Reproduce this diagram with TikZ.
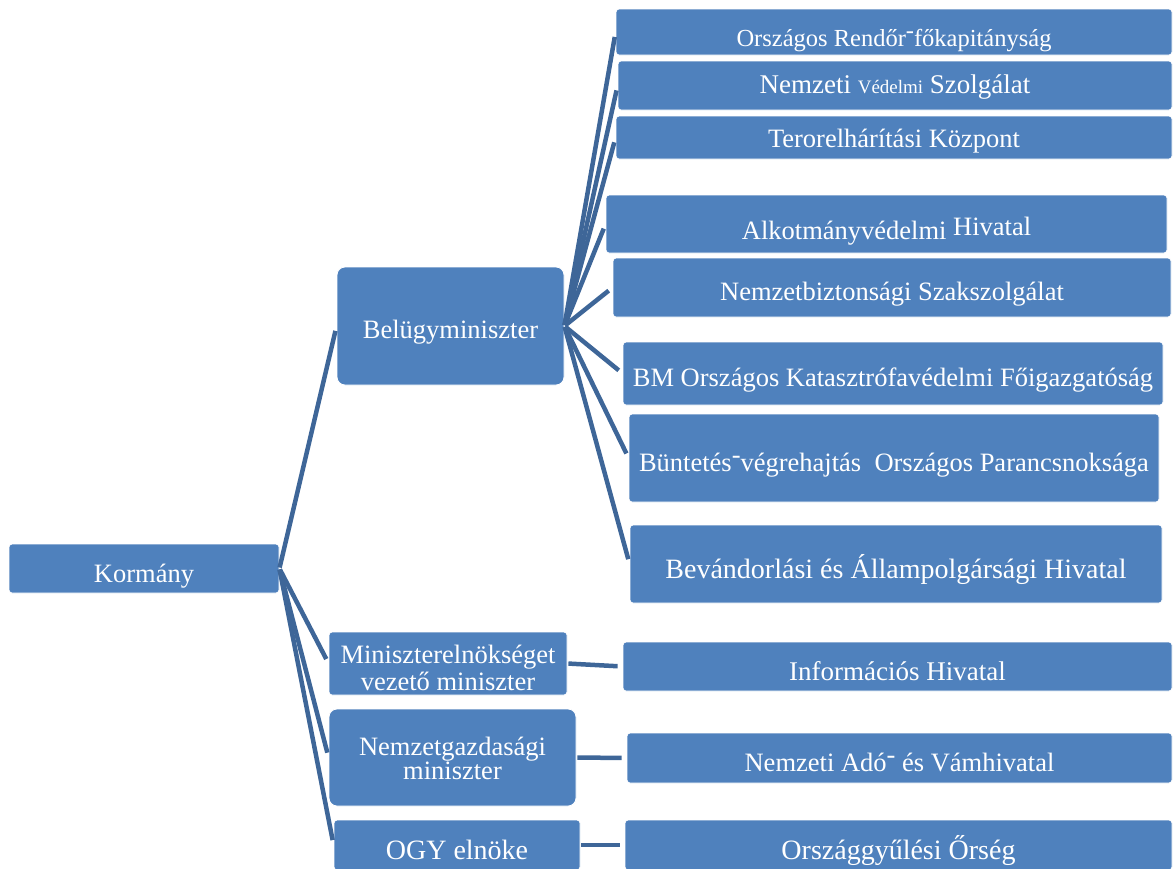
\documentclass[tikz,border=0pt]{standalone}
\usepackage{fontspec}
\setmainfont{Liberation Serif}
\usetikzlibrary{calc}
\definecolor{boxblue}{RGB}{79,129,189}
\definecolor{lineblue}{RGB}{62,102,152}
\newcommand{\updash}{\raisebox{0.32em}{-}}

\begin{document}
\begin{tikzpicture}[x=1pt,y=-1pt,
    box/.style={fill=boxblue, draw=white, line width=0.8pt, rounded corners=3pt,
        text=white, align=center, inner sep=0pt, font=\fontsize{26.5}{29}\selectfont},
    bl/.style={text height=#1, text depth=0pt}, bl/.default=28pt,
    conn/.style={lineblue, line width=4.5pt, shorten >=5pt, shorten <=1pt}]
    \useasboundingbox (0,0) rectangle (1176,868);
    % top level
    \node[box, bl=27pt, minimum width=270pt, minimum height=49pt] (korm) at (144,568.5) {Kormány};
    % ministers
    \node[box, bl=24pt, rounded corners=8pt, minimum width=227pt, minimum height=118pt] (bm) at (450.5,326) {Belügyminiszter};
    \node[box, bl=53pt, minimum width=238pt, minimum height=63pt, font=\fontsize{26.5}{26.7}\selectfont] (mevm) at (448,663.5) {Miniszterelnökséget\\vezető miniszter};
    \node[box, bl=44pt, rounded corners=8pt, minimum width=247pt, minimum height=97pt, font=\fontsize{26.5}{22}\selectfont] (ngm) at (452.5,757.5) {Nemzetgazdasági\\miniszter};
    \node[box, bl, minimum width=246pt, minimum height=50pt, font=\fontsize{28}{30}\selectfont] (ogy) at (457,845) {OGY elnöke};
    % Belügyminiszter alatt
    \node[box, bl=29pt, minimum width=556pt, minimum height=46pt, font=\fontsize{24.5}{27}\selectfont] (orfk) at (894,32) {Országos Rendőr\updash főkapitányság};
    \node[box, bl=16pt, minimum width=554pt, minimum height=49pt, font=\fontsize{27}{29}\selectfont] (nvsz) at (895,85.5) {Nemzeti {\fontsize{19}{22}\selectfont Védelmi} Szolgálat};
    \node[box, bl=20pt, minimum width=556pt, minimum height=43pt] (tek) at (894,137.5) {Terorelhárítási Központ};
    \node[box, bl=30pt, minimum width=561pt, minimum height=58pt] (ah) at (886.5,224) {Alkotmányvédelmi \raisebox{4pt}{Hivatal}};
    \node[box, bl=26pt, minimum width=558pt, minimum height=59pt] (nbsz) at (892,287.5) {Nemzetbiztonsági Szakszolgálat};
    \node[box, bl=26pt, minimum width=540pt, minimum height=63pt] (okf) at (893,373.5) {BM Országos Katasztrófavédelmi Főigazgatóság};
    \node[box, bl=27pt, minimum width=530pt, minimum height=88pt] (bvop) at (894,458) {Büntetés\updash végrehajtás\ \ Országos Parancsnoksága};
    \node[box, bl, minimum width=532pt, minimum height=78pt, font=\fontsize{28}{30}\selectfont] (bah) at (896,564) {Bevándorlási és Állampolgársági Hivatal};
    % egyéb hivatalok
    \node[box, bl, minimum width=549pt, minimum height=49pt, font=\fontsize{27}{29}\selectfont] (ih) at (897.5,666.5) {Információs Hivatal};
    \node[box, bl=27pt, minimum width=545pt, minimum height=50pt] (nav) at (899.5,758) {Nemzeti Adó\updash{} és Vámhivatal};
    \node[box, bl, minimum width=547pt, minimum height=50pt, font=\fontsize{28}{30}\selectfont] (oor) at (898.5,845) {Országgyűlési Őrség};
    % connectors
    \foreach \m in {bm,mevm,ngm,ogy}
        \draw[conn] (korm.east) -- (\m.west);
    \foreach \s in {orfk,nvsz,tek,ah,nbsz,okf,bvop,bah}
        \draw[conn] (bm.east) -- (\s.west);
    \draw[conn] (mevm.east) -- (ih.west);
    \draw[conn] (ngm.east) -- (nav.west);
    \draw[conn] (ogy.east) -- (oor.west);
\end{tikzpicture}
\end{document}
